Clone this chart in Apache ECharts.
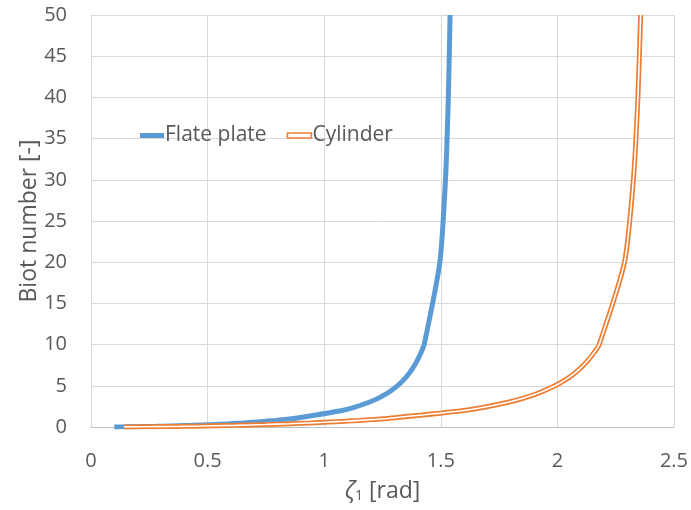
<!DOCTYPE html>
<html>
<head>
<meta charset="utf-8">
<script src="https://cdn.jsdelivr.net/npm/echarts@6/dist/echarts.min.js"></script>
<style>
  html, body { margin: 0; padding: 0; background: #fff; }
  #chart { width: 691px; height: 510px; }
</style>
</head>
<body>
<div id="chart"></div>
<script>
// Biot numbers at which the curves were sampled
const biotValues = [0.01, 0.02, 0.04, 0.06, 0.08, 0.1, 0.2, 0.3, 0.4, 0.5, 0.6, 0.7, 0.8, 0.9, 1,
  2, 3, 4, 5, 6, 7, 8, 9, 10, 20, 30, 40, 50]
// first eigenvalue zeta_1 [rad] read for each Biot number
const plateZeta = [0.0998, 0.1410, 0.1987, 0.2425, 0.2791, 0.3111, 0.4328, 0.5218, 0.5932, 0.6533, 0.7051, 0.7506, 0.7910, 0.8274, 0.8603,
  1.0769, 1.1925, 1.2646, 1.3138, 1.3496, 1.3766, 1.3978, 1.4149, 1.4289, 1.4961, 1.5202, 1.5325, 1.5400]
const cylinderZeta = [0.1412, 0.1995, 0.2814, 0.3438, 0.3960, 0.4417, 0.6170, 0.7465, 0.8516, 0.9408, 1.0184, 1.0873, 1.1490, 1.2048, 1.2558,
  1.5995, 1.7887, 1.9081, 1.9898, 2.0490, 2.0937, 2.1286, 2.1566, 2.1795, 2.2880, 2.3261, 2.3455, 2.3572]

const seriesNames = ['Flate plate', 'Cylinder']
const blue = '#5B9BD5'
const orange = '#ED7D31'
const font = '"Open Sans", "Noto Sans", sans-serif'

const platePts = plateZeta.map((z, i) => [z, biotValues[i]])
const cylPts = cylinderZeta.map((z, i) => [z, biotValues[i]])

const chart = echarts.init(document.getElementById('chart'))
chart.setOption({
  animation: false,
  textStyle: { fontFamily: font },
  grid: { left: 91, right: 17, top: 15, bottom: 83 },
  legend: {
    left: 135, top: 120,
    itemWidth: 24, itemHeight: 5, itemGap: 20,
    textStyle: { fontSize: 21, color: '#595959', fontFamily: font, padding: [0, 0, 0, -4] },
    data: [
      { name: seriesNames[0], icon: 'rect', itemStyle: { color: blue, borderWidth: 0 } },
      { name: seriesNames[1], icon: 'rect', itemStyle: { color: '#fff', borderColor: orange, borderWidth: 1.6 } }
    ]
  },
  xAxis: {
    type: 'value', min: 0, max: 2.5, interval: 0.5,
    name: '{i|ζ}{s|1} [rad]',
    nameLocation: 'middle', nameGap: 52, nameMoveOverlap: false,
    nameTextStyle: {
      fontSize: 23, color: '#595959',
      rich: {
        i: { fontSize: 23, fontStyle: 'italic', color: '#595959', fontFamily: font },
        s: { fontSize: 14, color: '#595959', verticalAlign: 'bottom', padding: [10, 0, 0, 0], fontFamily: font }
      }
    },
    axisLine: { show: true, lineStyle: { color: '#bfbfbf' } },
    axisTick: { show: false },
    axisLabel: { fontSize: 20, color: '#595959', margin: 24 },
    splitLine: { show: true, lineStyle: { color: '#d9d9d9' } }
  },
  yAxis: {
    type: 'value', min: 0, max: 50, interval: 5,
    name: 'Biot number [-]',
    nameLocation: 'middle', nameGap: 50, nameMoveOverlap: false,
    nameTextStyle: { fontSize: 23, color: '#595959' },
    axisLine: { show: false },
    axisTick: { show: false },
    axisLabel: { fontSize: 20, color: '#595959', margin: 24 },
    splitLine: { show: true, lineStyle: { color: '#d9d9d9' } }
  },
  series: [
    {
      name: seriesNames[0], type: 'line', data: platePts,
      showSymbol: false, smooth: 0.2,
      lineStyle: { color: blue, width: 5 },
      itemStyle: { color: blue }
    },
    {
      name: seriesNames[1], type: 'line', data: cylPts,
      showSymbol: false, smooth: 0.2,
      lineStyle: { color: orange, width: 5 },
      itemStyle: { color: orange }
    },
    {
      // white core that gives the cylinder curve its double-line look
      name: 'cylinder-core', type: 'line', data: cylPts,
      showSymbol: false, smooth: 0.2, silent: true,
      lineStyle: { color: '#fff', width: 1.6 }
    }
  ]
})
</script>
</body>
</html>
